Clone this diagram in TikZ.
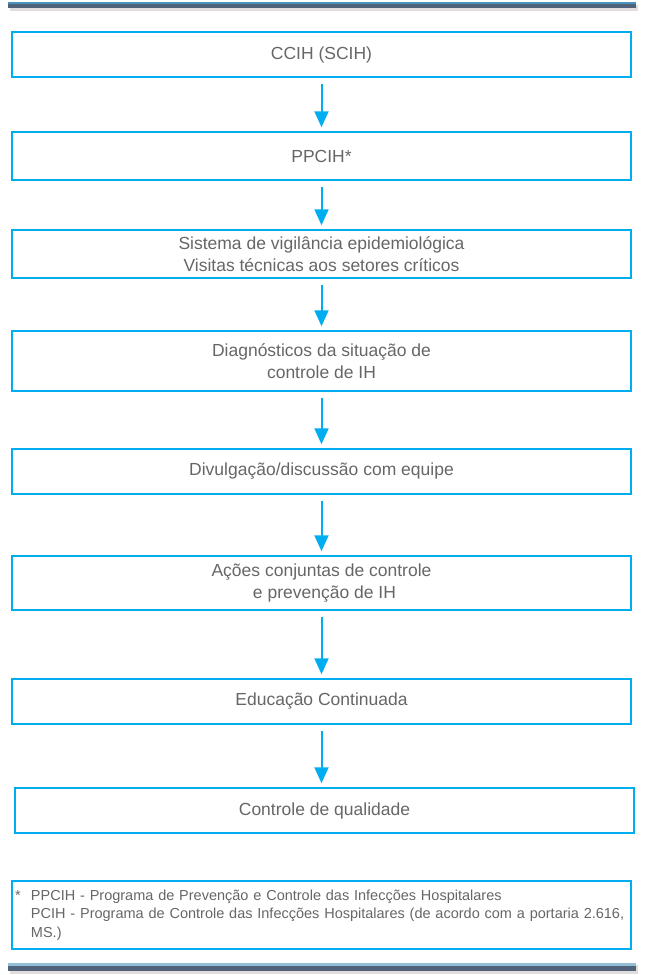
\documentclass[tikz,border=0pt]{standalone}
\usepackage{fontspec}
\setmainfont{Liberation Sans}
\usetikzlibrary{arrows.meta}
\definecolor{boxblue}{HTML}{00AEEF}
\definecolor{txtgrey}{HTML}{666666}
\definecolor{barslate}{HTML}{4F6279}
\definecolor{barblue}{HTML}{4B93BD}
\definecolor{barshade}{HTML}{E2DDDD}
\tikzset{>={Triangle[width=14pt,length=16pt]}}

\begin{document}
\begin{tikzpicture}[x=1pt,y=-1pt]
                % boxes: B1..B8 top to bottom, N = footnote
                \tikzstyle{box}=[rectangle, draw=boxblue, line width=1.5pt, minimum width=619pt,
                        inner sep=0pt, align=center, text=txtgrey, font=\fontsize{17.5}{22}\selectfont]
                \tikzstyle{every edge}=[draw=boxblue, line width=2pt, ->, shorten <=6pt, shorten >=4pt]
                \useasboundingbox (0,0) rectangle (648,975);
                % top and bottom bars
                \fill[barshade] (10,5) rectangle (638,11);
                \fill[barslate] (8,3) rectangle (636,8);
                \fill[barblue] (8,2) rectangle (636,4);
                \fill[barshade] (10,965) rectangle (638,974);
                \fill[barblue!60] (8,963) rectangle (636,966);
                \fill[barslate] (8,966) rectangle (636,971);
                \node[box, minimum height=45pt] (B1) at (321.5, 54.5) {CCIH (SCIH)};
                \node[box, minimum height=48pt] (B2) at (321.5, 156) {PPCIH*};
                \node[box, minimum height=48pt] (B3) at (321.5, 254) {Sistema de vigilância epidemiológica\\Visitas técnicas aos setores críticos};
                \node[box, minimum height=60pt] (B4) at (321.5, 361) {Diagnósticos da situação de\\controle de IH};
                \node[box, minimum height=45pt] (B5) at (321.5, 471.5) {Divulgação/discussão com equipe};
                \node[box, minimum height=54pt] (B6) at (321.5, 583) {Ações conjuntas de controle\\\hspace*{6pt}e prevenção de IH};
                \node[box, minimum height=45pt] (B7) at (321.5, 701.5) {Educação Continuada};
                \node[box, minimum height=45pt] (B8) at (324.5, 810.5) {Controle de qualidade};
                \draw (B1) edge (B2);
                \draw (B2) edge (B3);
                \draw (B3) edge (B4);
                \draw (B4) edge (B5);
                \draw (B5) edge (B6);
                \draw (B6) edge (B7);
                \draw (B7) edge (B7 |- B8.north);
                % footnote
                \node[box, minimum height=68pt, text width=613pt, inner xsep=3pt, align=left,
                        font=\fontsize{14.5}{18.5}\selectfont] (N) at (321.5, 915)
                        {\makebox[16pt][l]{*}PPCIH - Programa de Prevenção e Controle das Infecções Hospitalares\\
                        \hspace*{16pt}PCIH - Programa de Controle das Infecções Hospitalares (de acordo com a portaria 2.616,\\
                        \hspace*{16pt}MS.)};
        \end{tikzpicture}
\end{document}
